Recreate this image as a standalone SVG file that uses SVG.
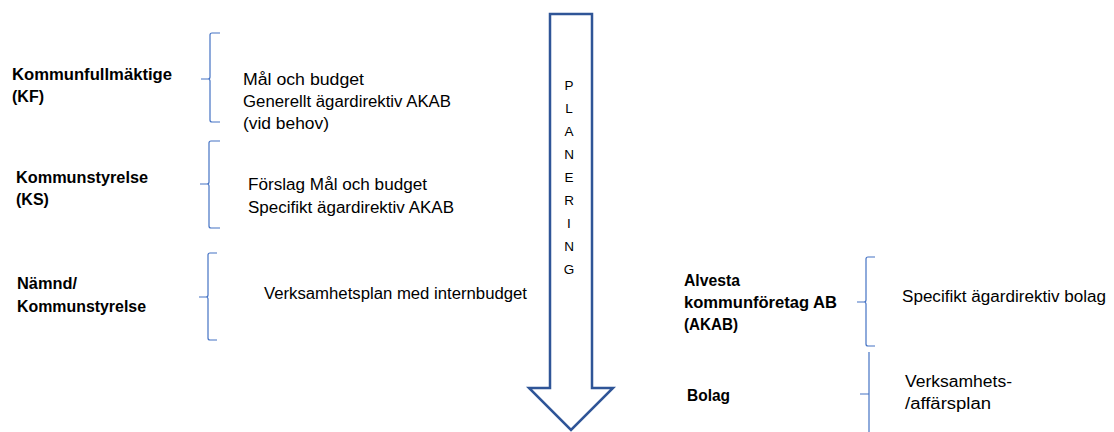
<svg xmlns="http://www.w3.org/2000/svg" width="1114" height="432" viewBox="0 0 1114 432">
<style>
.lbl{font-family:"Liberation Sans",Arial,sans-serif;font-size:16px;font-weight:bold;fill:#000}
.txt{font-family:"Liberation Sans",Arial,sans-serif;font-size:16px;fill:#000}
.let{font-family:"Liberation Sans",Arial,sans-serif;font-size:13.5px;fill:#000;text-anchor:middle}
.brace{fill:none;stroke:#4472C4;stroke-width:1.2}
.arrow{fill:#fff;stroke:#2F5597;stroke-width:2.5;stroke-linejoin:miter}
</style>
<rect width="1114" height="432" fill="#fff"/>
<g id="arrow">
<path class="arrow" d="M550,14 L592,14 L592,388 L613,388 L571,430 L529,388 L550,388 Z"/>
<text class="let" x="569" y="90">P</text>
<text class="let" x="569" y="113">L</text>
<text class="let" x="569" y="136">A</text>
<text class="let" x="569" y="159">N</text>
<text class="let" x="569" y="182">E</text>
<text class="let" x="569" y="205">R</text>
<text class="let" x="569" y="228">I</text>
<text class="let" x="569" y="251">N</text>
<text class="let" x="569" y="274">G</text>
</g>
<g id="connectors">
<path class="brace" d="M220,33 L212,33 Q210,33 210,35 L210,77 Q210,79 208,79 L201,79 M208,79 Q210,79 210,81 L210,120 Q210,122 212,122 L220,122"/>
<path class="brace" d="M220,141 L211,141 Q209,141 209,143 L209,182 Q209,184 207,184 L200,184 M207,184 Q209,184 209,186 L209,226 Q209,228 211,228 L220,228"/>
<path class="brace" d="M217,253 L210,253 Q208,253 208,255 L208,295 Q208,297 206,297 L199,297 M206,297 Q208,297 208,299 L208,338 Q208,340 210,340 L217,340"/>
<path class="brace" d="M875,257 L868,257 Q866,257 866,259 L866,300 Q866,302 864,302 L857,302 M864,302 Q866,302 866,304 L866,344 Q866,346 868,346 L875,346"/>
<path class="brace" d="M869,352 L869,432 M860,394 L869,394"/>
</g>
<g id="kf">
<text class="lbl" x="12" y="80" textLength="160" lengthAdjust="spacingAndGlyphs">Kommunfullmäktige</text>
<text class="lbl" x="12" y="102">(KF)</text>
<text class="txt" x="243" y="85" textLength="121" lengthAdjust="spacingAndGlyphs">Mål och budget</text>
<text class="txt" x="243" y="107" textLength="208" lengthAdjust="spacingAndGlyphs">Generellt ägardirektiv AKAB</text>
<text class="txt" x="243" y="129" textLength="86" lengthAdjust="spacingAndGlyphs">(vid behov)</text>
</g>
<g id="ks">
<text class="lbl" x="16" y="183" textLength="132" lengthAdjust="spacingAndGlyphs">Kommunstyrelse</text>
<text class="lbl" x="16" y="205">(KS)</text>
<text class="txt" x="248" y="190" textLength="179" lengthAdjust="spacingAndGlyphs">Förslag Mål och budget</text>
<text class="txt" x="248" y="213" textLength="206" lengthAdjust="spacingAndGlyphs">Specifikt ägardirektiv AKAB</text>
</g>
<g id="namnd">
<text class="lbl" x="17" y="289" textLength="60" lengthAdjust="spacingAndGlyphs">Nämnd/</text>
<text class="lbl" x="17" y="312" textLength="129" lengthAdjust="spacingAndGlyphs">Kommunstyrelse</text>
<text class="txt" x="264" y="299" textLength="263" lengthAdjust="spacingAndGlyphs">Verksamhetsplan med internbudget</text>
</g>
<g id="akab">
<text class="lbl" x="684" y="286" textLength="56" lengthAdjust="spacingAndGlyphs">Alvesta</text>
<text class="lbl" x="684" y="308" textLength="153" lengthAdjust="spacingAndGlyphs">kommunföretag AB</text>
<text class="lbl" x="684" y="330" textLength="54" lengthAdjust="spacingAndGlyphs">(AKAB)</text>
<text class="txt" x="902" y="302" textLength="204" lengthAdjust="spacingAndGlyphs">Specifikt ägardirektiv bolag</text>
</g>
<g id="bolag">
<text class="lbl" x="687" y="401" textLength="43" lengthAdjust="spacingAndGlyphs">Bolag</text>
<text class="txt" x="905" y="387" textLength="107" lengthAdjust="spacingAndGlyphs">Verksamhets-</text>
<text class="txt" x="905" y="409" textLength="86" lengthAdjust="spacingAndGlyphs">/affärsplan</text>
</g>
</svg>
